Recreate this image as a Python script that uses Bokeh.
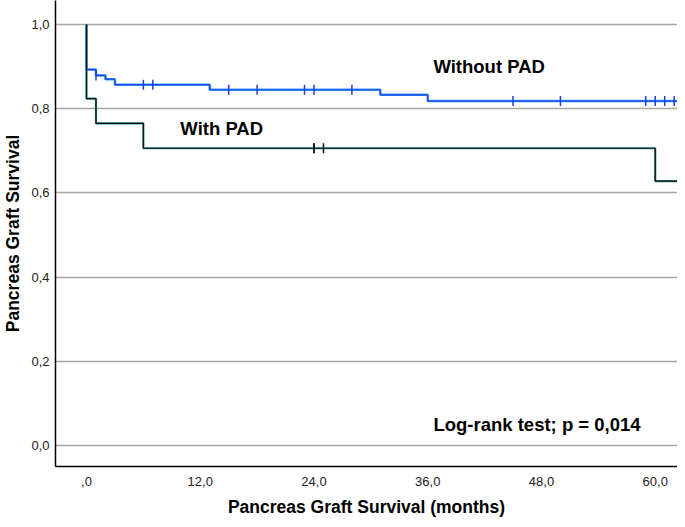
import numpy as np
from bokeh.plotting import figure
from bokeh.models import FixedTicker, Range1d, Label
from bokeh.embed import file_html
from bokeh.resources import INLINE

# Kaplan-Meier step data (months, survival)
without_times = [0, 0, 1, 2, 3, 13, 31, 36]
without_surv = [1.0, 0.893, 0.879, 0.870, 0.857, 0.845, 0.833, 0.818]
without_censor = [1, 6, 7, 15, 18, 23, 24, 28, 45, 50, 59, 60, 61, 62]

with_times = [0, 0, 1, 6, 60]
with_surv = [1.0, 0.824, 0.765, 0.706, 0.628]
with_censor = [24, 24, 25]

x_ticks = [0, 12, 24, 36, 48, 60]
x_tick_labels = [",0", "12,0", "24,0", "36,0", "48,0", "60,0"]
y_ticks = [0.0, 0.2, 0.4, 0.6, 0.8, 1.0]
y_tick_labels = ["0,0", "0,2", "0,4", "0,6", "0,8", "1,0"]

X_START, X_END = -3.27, 62.35

FONT = "Liberation Sans"

p = figure(width=677, height=519, output_backend="svg", toolbar_location=None,
           x_range=Range1d(X_START, X_END), y_range=Range1d(-0.050, 1.057),
           min_border_left=0, min_border_right=0, min_border_top=0, min_border_bottom=0)
p.outline_line_color = None
p.background_fill_color = "white"
p.xgrid.grid_line_color = None
p.ygrid.grid_line_color = "#a6a6a6"
p.ygrid.grid_line_width = 1.5
p.ygrid.ticker = FixedTicker(ticks=y_ticks)

p.xaxis.ticker = FixedTicker(ticks=x_ticks)
p.yaxis.ticker = FixedTicker(ticks=y_ticks)
p.xaxis.major_label_overrides = {t: l for t, l in zip(x_ticks, x_tick_labels)}
p.yaxis.major_label_overrides = {t: l for t, l in zip(y_ticks, y_tick_labels)}
for ax in (p.xaxis, p.yaxis):
    ax.major_tick_line_color = None
    ax.minor_tick_line_color = None
    ax.major_tick_out = 0
    ax.major_tick_in = 0
    ax.minor_tick_out = 0
    ax.minor_tick_in = 0
    ax.axis_line_color = "black"
    ax.axis_line_width = 1.5
    ax.major_label_text_font = FONT
    ax.major_label_text_font_size = "13px"
    ax.major_label_text_color = "#222222"
    ax.axis_label_text_font = FONT
    ax.axis_label_text_font_size = "17.5px"
    ax.axis_label_text_font_style = "bold"
    ax.axis_label_text_color = "black"
p.xaxis.axis_label = "Pancreas Graft Survival (months)"
p.yaxis.axis_label = "Pancreas Graft Survival"
p.xaxis.major_label_standoff = 10
p.xaxis.axis_label_standoff = 8
p.yaxis.major_label_standoff = 6
p.yaxis.axis_label_standoff = 5


def surv_at(times, surv, t):
    idx = max(i for i, tt in enumerate(times) if tt <= t)
    return surv[idx]


# Without PAD (blue)
wx = without_times + [X_END]
wy = without_surv + [without_surv[-1]]
p.step(wx, wy, mode="after", line_color="#3aa0ff", line_width=2.5)
p.step(wx, wy, mode="after", line_color="#1a3fe0", line_width=1.2)
wcy = [surv_at(without_times, without_surv, t) for t in without_censor]
p.scatter(without_censor, wcy, marker="dash", angle=np.pi / 2, size=10,
          line_color="#1a3fe0", line_width=1.5)

# With PAD (black)
bx = with_times + [X_END]
by = with_surv + [with_surv[-1]]
p.step(bx, by, mode="after", line_color="#2a8f8f", line_width=2.2)
p.step(bx, by, mode="after", line_color="#111111", line_width=1.2)
bcy = [surv_at(with_times, with_surv, t) for t in with_censor]
p.scatter(with_censor, bcy, marker="dash", angle=np.pi / 2, size=10,
          line_color="#111111", line_width=1.5)

for txt, x, y in [("Without PAD", 36.6, 0.90), ("With PAD", 9.9, 0.752),
                  ("Log-rank test; p = 0,014", 36.6, 0.05)]:
    p.add_layout(Label(x=x, y=y, text=txt, text_font=FONT, text_font_size="18.5px",
                       text_font_style="bold", text_color="black",
                       text_baseline="middle", text_align="left"))

open("out.html", "w").write(file_html(p, INLINE))
